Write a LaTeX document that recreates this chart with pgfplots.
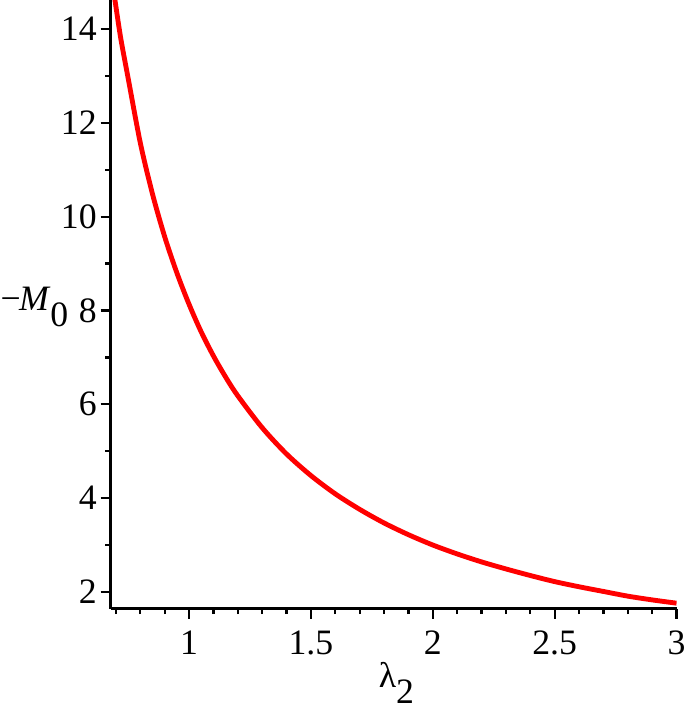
\documentclass[border=0pt]{standalone}
\usepackage{fontspec}
\setmainfont{Liberation Serif}
\usepackage{pgfplots}
\pgfplotsset{compat=1.18}
\begin{document}
\fontsize{12.5}{15}\selectfont
\begin{tikzpicture}
\begin{axis}[
  scale only axis, width=198pt, height=213pt,
  xmin=0.678, xmax=3.0, ymin=1.64, ymax=14.62,
  axis lines=left,
  axis line style={black, line width=1pt, -},
  xtick={1,1.5,2,2.5,3},
  xticklabels={1,1.5,2,2.5,3},
  minor xtick={0.7,0.8,0.9,1.1,1.2,1.3,1.4,1.6,1.7,1.8,1.9,2.1,2.2,2.3,2.4,2.6,2.7,2.8,2.9},
  ytick={2,4,6,8,10,12,14},
  yticklabels={2,4,6,8,10,12,14},
  minor ytick={3,5,7,9,11,13},
  tick align=outside,
  major tick length=3.5pt, minor tick length=1.9pt,
  tick style={black, line width=0.8pt},
  yticklabel style={xshift=3pt},
  /pgf/number format/assume math mode=true,
  every axis x label/.style={at={(rel axis cs:0.5,0)}, anchor=base, inner sep=0pt, xshift=1pt, yshift=-27.6pt},
  every axis y label/.style={at={(rel axis cs:0,0.49)}, anchor=base east, inner sep=0pt, xshift=-14.6pt},
  xlabel={λ\raisebox{-0.45em}{2}},
  ylabel={−\kern-0.05em\textit{M}\raisebox{-0.45em}{0}},
  clip=true,
]
\addplot[red, line width=1.7pt, smooth] table {
x y
0.690 14.83
0.700 14.47
0.720 13.79
0.750 12.95
0.800 11.57
0.850 10.48
0.900 9.57
0.950 8.80
1.000 8.13
1.050 7.54
1.100 7.03
1.150 6.58
1.200 6.18
1.300 5.50
1.400 4.94
1.500 4.48
1.600 4.09
1.700 3.76
1.800 3.47
1.900 3.22
2.000 3.00
2.100 2.81
2.200 2.64
2.300 2.49
2.400 2.35
2.500 2.22
2.600 2.11
2.700 2.01
2.800 1.91
2.900 1.83
3.000 1.76
};
\end{axis}
\pgfresetboundingbox
\path ([xshift=-38.7pt,yshift=-35.4pt]current axis.south west) rectangle ([xshift=2.9pt]current axis.north east);
\end{tikzpicture}
\end{document}
